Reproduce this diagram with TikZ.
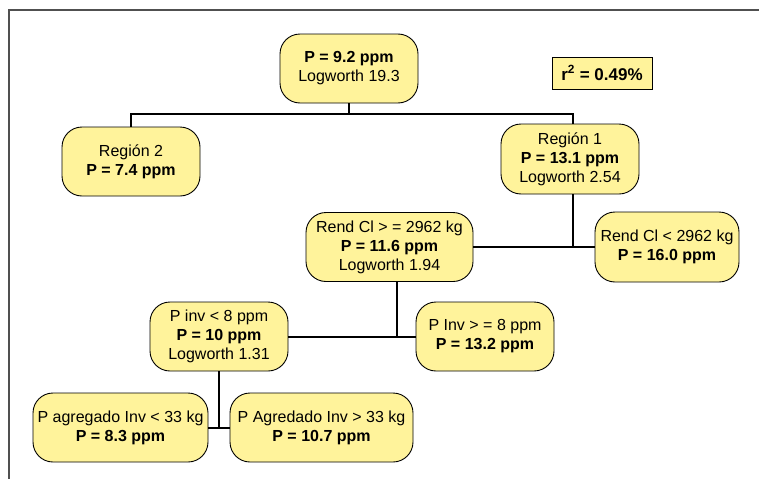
\documentclass[tikz,border=0pt]{standalone}
\usepackage{fontspec}
\setmainfont{Liberation Sans}
\definecolor{boxfill}{RGB}{255,243,155}
\definecolor{framegray}{RGB}{80,80,80}
\begin{document}
\begin{tikzpicture}[x=1pt,y=-1pt,
  box/.style={draw=black, line width=0.9pt, fill=boxfill, rounded corners=20pt,
    align=center, inner sep=0pt, minimum height=69pt,
    font=\fontsize{16}{19}\selectfont},
  rbox/.style={draw=black, line width=0.9pt, fill=boxfill, inner sep=0pt,
    minimum width=100pt, minimum height=32pt, font=\fontsize{17}{19}\selectfont\bfseries},
  conn/.style={line width=2pt, black},
  framel/.style={line width=1.3pt, framegray}]
\useasboundingbox (0,0) rectangle (759,479);
\draw[framel] (8,10) -- (759,10);
\draw[framel] (9,10) -- (9,479);

\node[box, minimum width=138pt] (root) at (349,68.5) {\textbf{P = 9.2 ppm}\\Logworth 19.3};
\node[rbox] (r2) at (602,73) {r\textsuperscript{2} = 0.49\%};
\node[box, minimum width=138pt] (reg2) at (131,161.5) {Región 2\\\textbf{P = 7.4 ppm}};
\node[box, minimum width=138pt, minimum height=70pt] (reg1) at (570,159) {Región 1\\\textbf{P = 13.1 ppm}\\Logworth 2.54};
\node[box, minimum width=167pt] (rendge) at (389.5,247) {Rend Cl > = 2962 kg\\\textbf{P = 11.6 ppm}\\Logworth 1.94};
\node[box, minimum width=144pt, minimum height=70pt] (rendlt) at (667,247) {Rend Cl < 2962 kg\\\textbf{P = 16.0 ppm}};
\node[box, minimum width=138pt] (pinv) at (219,336.5) {P inv < 8 ppm\\\textbf{P = 10 ppm}\\Logworth 1.31};
\node[box, minimum width=138pt] (pinvge) at (485,336.5) {P Inv > = 8 ppm\\\textbf{P = 13.2 ppm}};
\node[box, minimum width=175pt] (agglt) at (120.5,427.5) {P agregado Inv < 33 kg\\\textbf{P = 8.3 ppm}};
\node[box, minimum width=183pt] (agggt) at (321.5,427.5) {P Agredado Inv > 33 kg\\\textbf{P = 10.7 ppm}};

\coordinate (j1) at (349,114);
\coordinate (j2) at (573,114);
\coordinate (j3) at (397,336.5);
\draw[conn] (root.south) -- (j1);
\draw[conn] (reg2.north) |- (j1) -- (j2) -- (j2 |- reg1.north);
\draw[conn] (j2 |- reg1.south) -- (j2 |- rendlt.west);
\draw[conn] (rendge.east) -- (rendlt.west);
\draw[conn] (j3 |- rendge.south) -- (j3);
\draw[conn] (pinv.east) -- (pinvge.west);
\draw[conn] (pinv.south) -- (pinv.south |- agglt.east);
\draw[conn] (agglt.east) -- (agggt.west);
\end{tikzpicture}
\end{document}
